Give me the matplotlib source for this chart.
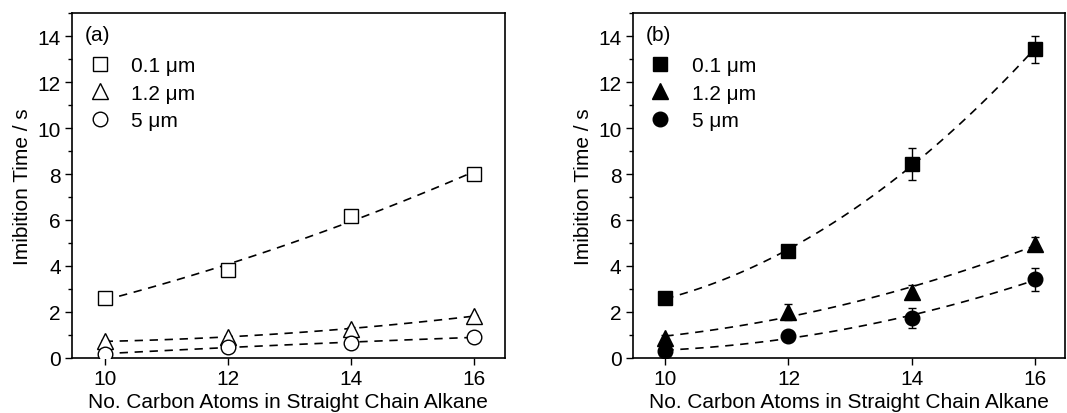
import matplotlib.pyplot as plt
import numpy as np
from matplotlib.ticker import MultipleLocator

plt.rcParams['font.family'] = ['Liberation Sans', 'DejaVu Sans']
plt.rcParams['font.size'] = 15

carbons = [10, 12, 14, 16]
labels = ['0.1 μm', '1.2 μm', '5 μm']
markers = ['s', '^', 'o']
msizes = [9.5, 11, 10.5]

# (a) open symbols
a_vals = [[2.6, 3.83, 6.18, 8.02],
          [0.72, 0.92, 1.28, 1.82],
          [0.18, 0.47, 0.67, 0.9]]
a_err = [[0.1, 0.15, 0.15, 0.15],
         [0.05, 0.05, 0.05, 0.05],
         [0.05, 0.05, 0.05, 0.05]]

# (b) filled symbols
b_vals = [[2.6, 4.65, 8.43, 13.42],
          [0.88, 2.0, 2.88, 4.95],
          [0.3, 0.97, 1.74, 3.42]]
b_err = [[0.1, 0.25, 0.7, 0.6],
         [0.1, 0.35, 0.3, 0.3],
         [0.1, 0.15, 0.42, 0.5]]

fig = plt.figure(figsize=(10.67, 4.14), dpi=100)
ax1 = fig.add_axes([0.0675, 0.133, 0.4055, 0.833])
ax2 = fig.add_axes([0.593, 0.133, 0.4055, 0.833])

xs = np.linspace(10, 16, 100)

def draw(ax, vals, errs, filled, tag):
    for v, e, m, ms, lab in zip(vals, errs, markers, msizes, labels):
        fc = 'black' if filled else 'white'
        ax.errorbar(carbons, v, yerr=e, fmt=m, ms=ms,
                    mfc=fc, mec='black', mew=1.0, color='black',
                    ecolor='black', elinewidth=1.0, capsize=3, label=lab, zorder=3)
        # fitted trend line
        p = np.polyfit(carbons, v, 2)
        ax.plot(xs, np.polyval(p, xs), '--', color='black', lw=1.2,
                dashes=(5, 4), zorder=2)
    ax.set_xlim(9.47, 16.5)
    ax.set_ylim(0, 15)
    ax.set_xticks(carbons)
    ax.yaxis.set_major_locator(MultipleLocator(2))
    ax.yaxis.set_minor_locator(MultipleLocator(1))
    ax.tick_params(which='both', direction='out', top=False, right=False)
    ax.tick_params(which='major', length=5, width=1, pad=3)
    ax.tick_params(which='minor', length=3, width=1)
    ax.set_xlabel('No. Carbon Atoms in Straight Chain Alkane', labelpad=3)
    ax.set_ylabel('Imibition Time / s', labelpad=4)
    for s in ax.spines.values():
        s.set_linewidth(1.2)
    ax.text(0.03, 0.965, tag, transform=ax.transAxes, va='top', ha='left')
    h, l = ax.get_legend_handles_labels()
    h = [hh[0] for hh in h]
    ax.legend(h, l, loc='upper left', bbox_to_anchor=(0.035, 0.875), frameon=False,
              handletextpad=0.9, labelspacing=0.4, handlelength=1.2,
              borderaxespad=0.0, borderpad=0.0)

draw(ax1, a_vals, a_err, False, '(a)')
draw(ax2, b_vals, b_err, True, '(b)')

fig.savefig('out.png', dpi=100)
